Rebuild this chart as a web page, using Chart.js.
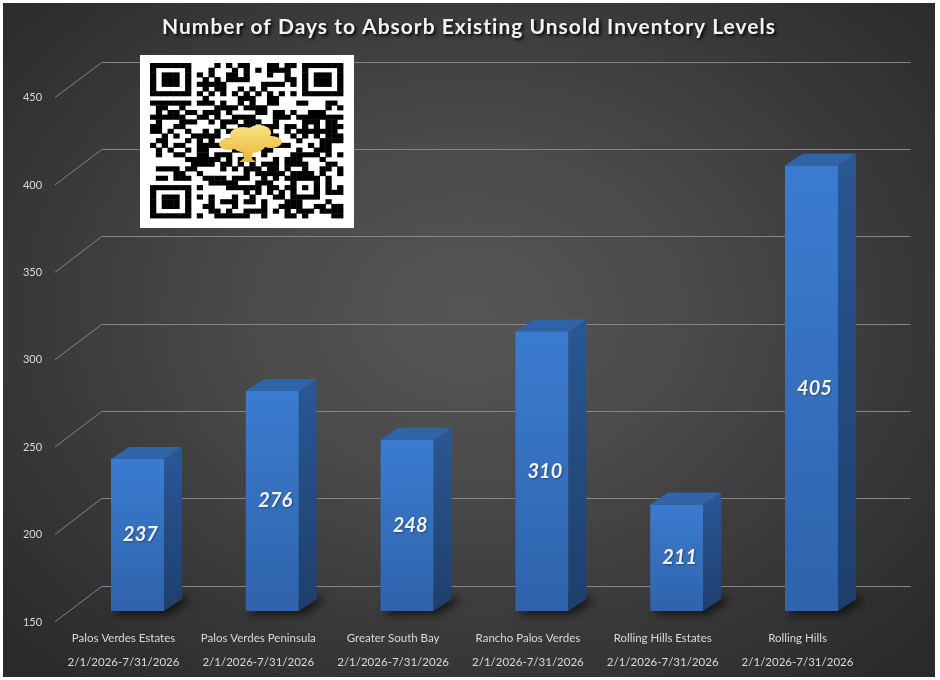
<!DOCTYPE html>
<html><head><meta charset="utf-8">
<script src="https://cdn.jsdelivr.net/npm/chart.js@4.4.1/dist/chart.umd.min.js"></script>
<style>
html,body{margin:0;padding:0;background:#ffffff;}
#wrap{position:absolute;left:3px;top:3px;width:932px;height:674px;
background:radial-gradient(ellipse 68% 72% at 50% 46%, #565656 0%, #4a4a4a 35%, #383838 70%, #2a2a2a 100%);}
</style></head><body>
<div id="wrap"><canvas id="c"></canvas></div>
<script>
const titleText = 'Number of Days to Absorb Existing Unsold Inventory Levels';
const areaNames = ['Palos Verdes Estates','Palos Verdes Peninsula','Greater South Bay','Rancho Palos Verdes','Rolling Hills Estates','Rolling Hills'];
const periodLabels = ['2/1/2026-7/31/2026','2/1/2026-7/31/2026','2/1/2026-7/31/2026','2/1/2026-7/31/2026','2/1/2026-7/31/2026','2/1/2026-7/31/2026'];
const daysToAbsorb = [237,276,248,310,211,405];
const yTicks = [150,200,250,300,350,400,450];

const categories = areaNames.map((n,i)=>[n, periodLabels[i]]);

const BAR_DX = 18, BAR_DY = -12;

const wallPlugin = {
  id:'wall',
  beforeDatasetsDraw(chart){
    const ctx = chart.ctx, ys = chart.scales.y, ca = chart.chartArea;
    const frontX = ca.left - 15.1, backX = ca.left + 31.6, endX = ca.right + 31.8;
    ctx.save();
    ctx.strokeStyle = '#858585'; ctx.lineWidth = 1;
    ys.ticks.forEach(t=>{
      const p = ys.getPixelForValue(t.value);
      const yb = Math.round(p - 25.3) + 0.5, yf = p + 10.7;
      ctx.beginPath(); ctx.moveTo(frontX, yf); ctx.lineTo(backX, yb); ctx.lineTo(endX, yb); ctx.stroke();
    });
    ctx.restore();
    const base = ys.getPixelForValue(ys.min);
    const meta = chart.getDatasetMeta(0);
    meta.data.forEach(el=>{
      const x = el.x, width = el.width;
      const l = x - width/2, r = x + width/2;
      ctx.save(); ctx.filter = 'blur(4px)'; ctx.fillStyle = 'rgba(0,0,0,0.6)';
      ctx.beginPath();
      ctx.moveTo(l+2, base+4); ctx.lineTo(r+4, base+4); ctx.lineTo(r+BAR_DX+8, base+BAR_DY+2);
      ctx.lineTo(r+BAR_DX+2, base+BAR_DY-2); ctx.lineTo(l+BAR_DX, base+BAR_DY-2); ctx.closePath(); ctx.fill();
      ctx.restore();
    });
  },
  afterDatasetsDraw(chart){
    const ctx = chart.ctx, ys = chart.scales.y;
    const base = ys.getPixelForValue(ys.min);
    const meta = chart.getDatasetMeta(0);
    meta.data.forEach((el,i)=>{
      const x = el.x, width = el.width, y = ys.getPixelForValue(daysToAbsorb[i]);
      const l = x - width/2, r = x + width/2;
      ctx.save();
      const gs = ctx.createLinearGradient(0, y, 0, base);
      gs.addColorStop(0,'#2a5693'); gs.addColorStop(1,'#1e3f6c');
      ctx.fillStyle = gs;
      ctx.beginPath(); ctx.moveTo(r, y); ctx.lineTo(r+BAR_DX, y+BAR_DY); ctx.lineTo(r+BAR_DX, base+BAR_DY); ctx.lineTo(r, base); ctx.closePath(); ctx.fill();
      ctx.fillStyle = '#3064a9';
      ctx.beginPath(); ctx.moveTo(l, y); ctx.lineTo(l+BAR_DX, y+BAR_DY); ctx.lineTo(r+BAR_DX, y+BAR_DY); ctx.lineTo(r, y); ctx.closePath(); ctx.fill();
      ctx.font = 'italic bold 20px Lato';
      ctx.fillStyle = '#f2f2f2'; ctx.textAlign = 'center'; ctx.textBaseline = 'middle';
      ctx.shadowColor = 'rgba(0,0,0,0.35)'; ctx.shadowOffsetX = 1; ctx.shadowOffsetY = 1; ctx.shadowBlur = 2;
      ctx.fillText(String(daysToAbsorb[i]), x + 3, (y + base)/2);
      ctx.restore();
    });
  },
  afterDraw(chart){
    const ctx = chart.ctx;
    ctx.save();
    ctx.font = 'bold 21px Lato'; ctx.fillStyle = '#f2f2f2'; ctx.textAlign = 'center'; ctx.textBaseline = 'middle';
    if ('letterSpacing' in ctx) ctx.letterSpacing = '1px';
    ctx.shadowColor = 'rgba(0,0,0,0.85)'; ctx.shadowOffsetX = 2; ctx.shadowOffsetY = 2; ctx.shadowBlur = 3;
    ctx.fillText(titleText, chart.width/2, 24);
    ctx.restore();
    // QR code decoration
    ctx.save();
    const qx = 137, qy = 52, qw = 214, qh = 173;
    ctx.fillStyle = '#ffffff'; ctx.fillRect(qx, qy, qw, qh);
    const N = 33, mx = qx + 10, my = qy + 8, mw = 193/N, mh = 155/N;
    let seed = 12345;
    const rnd = ()=>{ seed = (seed*1103515245 + 12345) & 0x7fffffff; return seed/0x7fffffff; };
    const grid = [];
    for (let r=0;r<N;r++){ grid.push([]); for (let c=0;c<N;c++) grid[r].push(rnd() < 0.5 ? 1 : 0); }
    const finder = (r0,c0)=>{
      for (let r=-1;r<8;r++) for (let c=-1;c<8;c++){
        const rr=r0+r, cc=c0+c; if (rr<0||cc<0||rr>=N||cc>=N) continue;
        let v = 0;
        if (r>=0&&r<7&&c>=0&&c<7){ v = (r===0||r===6||c===0||c===6||(r>=2&&r<=4&&c>=2&&c<=4)) ? 1 : 0; }
        grid[rr][cc] = v;
      }
    };
    finder(0,0); finder(0,N-7); finder(N-7,0);
    for (let i=8;i<N-8;i++){ grid[6][i] = i%2===0?1:0; grid[i][6] = i%2===0?1:0; }
    for (let r=-2;r<=2;r++) for (let c=-2;c<=2;c++){ grid[26+r][26+c] = (Math.max(Math.abs(r),Math.abs(c))!==1)?1:0; }
    ctx.fillStyle = '#000000';
    for (let r=0;r<N;r++) for (let c=0;c<N;c++) if (grid[r][c]) ctx.fillRect(mx+c*mw, my+r*mh, mw+0.4, mh+0.4);
    const g = ctx.createLinearGradient(0, 120, 0, 160);
    g.addColorStop(0,'#fbe48a'); g.addColorStop(1,'#e9b531');
    ctx.fillStyle = g;
    const blobs = [[226,141,10,6],[240,132,13,8],[256,130,12,8],[268,139,11,6],[246,143,16,7]];
    blobs.forEach(b=>{ ctx.beginPath(); ctx.ellipse(b[0],b[1],b[2],b[3],0,0,Math.PI*2); ctx.fill(); });
    ctx.beginPath(); ctx.moveTo(240,146); ctx.lineTo(250,146); ctx.lineTo(249,156); ctx.lineTo(253,159); ctx.lineTo(236,159); ctx.lineTo(241,155); ctx.closePath(); ctx.fill();
    ctx.restore();
  }
};

new Chart(document.getElementById('c'), {
  type:'bar',
  data:{
    labels: categories,
    datasets:[{
      data: daysToAbsorb,
      barPercentage: 53/134.8,
      categoryPercentage: 1,
      borderWidth: 0,
      backgroundColor: (c)=>{
        const chart = c.chart;
        if (!chart.chartArea || c.type !== 'data') return '#3572c0';
        const ys = chart.scales.y;
        const top = ys.getPixelForValue(c.raw), bot = ys.getPixelForValue(ys.min);
        const g = chart.ctx.createLinearGradient(0, top, 0, bot);
        g.addColorStop(0,'#3b7cd0'); g.addColorStop(1,'#2f63ab');
        return g;
      }
    }]
  },
  options:{
    responsive:true, maintainAspectRatio:false, animation:false,
    layout:{padding:{top:83.9, right:56.1, bottom:3, left:0}},
    plugins:{legend:{display:false}, tooltip:{enabled:false}, title:{display:false}},
    scales:{
      x:{
        grid:{display:false, drawTicks:false}, border:{display:false},
        ticks:{color:'#d9d9d9', font:{family:'Lato', size:11.5, lineHeight:24/11.5}, padding:15, labelOffset:-14, maxRotation:0, autoSkip:false},
        afterFit:(s)=>{ s.height = 63; }
      },
      y:{
        min:150, max:450,
        afterBuildTicks:(s)=>{ s.ticks = yTicks.map(v=>({value:v})); },
        grid:{display:false, drawTicks:false}, border:{display:false},
        ticks:{color:'#d9d9d9', font:{family:'Lato', size:11}, padding:28, labelOffset:11},
        afterFit:(s)=>{ s.width = 67.1; }
      }
    }
  },
  plugins:[wallPlugin]
});
</script>
</body></html>
